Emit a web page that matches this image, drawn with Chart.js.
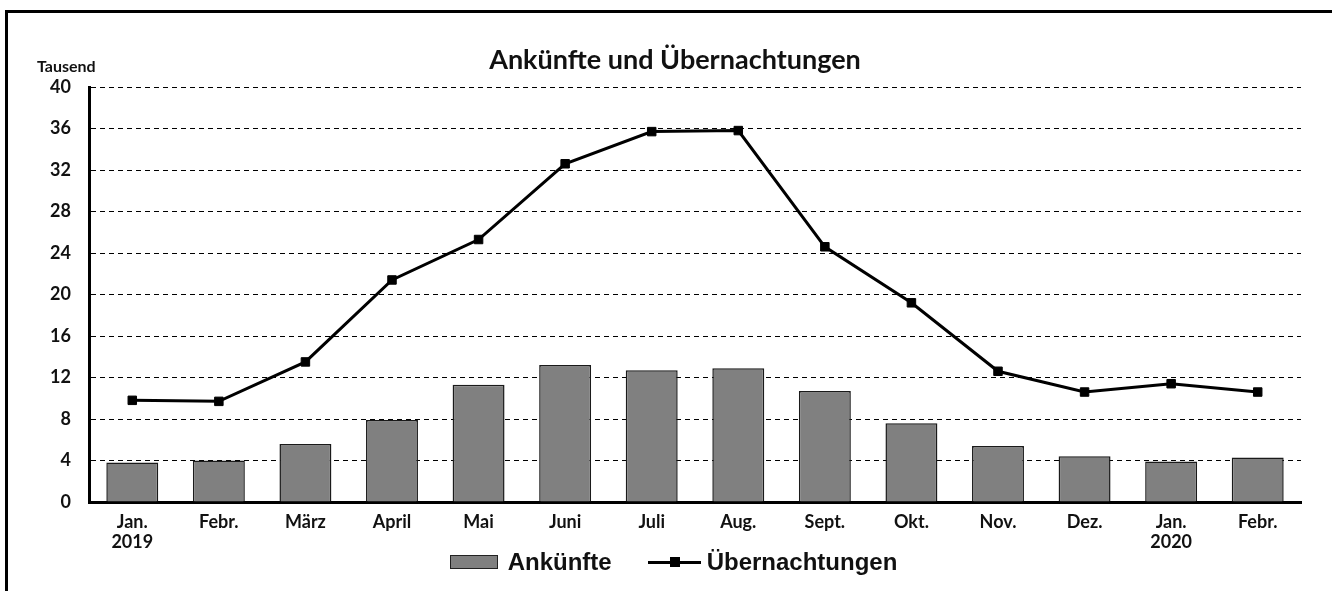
<!DOCTYPE html>
<html>
<head>
<meta charset="utf-8">
<script src="https://cdn.jsdelivr.net/npm/chart.js@4.4.1/dist/chart.umd.min.js"></script>
<style>
  html, body { margin: 0; padding: 0; background: #fff; }
  #wrap { position: relative; width: 1332px; height: 591px; overflow: hidden; }
  #frame { position: absolute; left: 5px; top: 10px; width: 1400px; height: 700px;
           border-top: 3px solid #000; border-left: 3px solid #000; }
  #chart { position: absolute; left: 0; top: 0; }
  #titel { position: absolute; left: 0; width: 1350px; top: 42px; text-align: center;
           font: bold 27px Lato, sans-serif; color: #111; }
  #einheit { position: absolute; left: 37px; top: 56px; font: bold 16px Lato, sans-serif; color: #111; }
  #legende { position: absolute; left: 0; width: 1347px; top: 548px; display: flex; justify-content: center;
             align-items: center; font: bold 24px "Liberation Sans", Arial, sans-serif; color: #111; }
  .box { width: 46px; height: 12px; background: #808080; border: 1px solid #222; margin-right: 10px; }
  .linie { position: relative; width: 53px; height: 3px; background: #000; margin: 0 6px 0 36px; }
  .linie span { position: absolute; left: 22px; top: -4px; width: 10px; height: 10px; background: #000; }
</style>
</head>
<body>
<div id="wrap">
  <div id="frame"></div>
  <canvas id="chart" width="1332" height="591"></canvas>
  <div id="titel">Ankünfte und Übernachtungen</div>
  <div id="einheit">Tausend</div>
  <div id="legende">
    <div class="box"></div><span>Ankünfte</span>
    <div class="linie"><span></span></div><span>Übernachtungen</span>
  </div>
</div>
<script>
const monate = [['Jan.', '2019'], 'Febr.', 'März', 'April', 'Mai', 'Juni', 'Juli', 'Aug.', 'Sept.', 'Okt.', 'Nov.', 'Dez.', ['Jan.', '2020'], 'Febr.'];
const ankuenfte = [3.8, 4.0, 5.6, 7.9, 11.3, 13.2, 12.7, 12.9, 10.7, 7.6, 5.4, 4.4, 3.9, 4.3];
const uebernachtungen = [9.8, 9.7, 13.5, 21.4, 25.3, 32.6, 35.7, 35.8, 24.6, 19.2, 12.6, 10.6, 11.4, 10.6];
const yMin = 0, yMax = 40, yStep = 4;

const tickFont = { family: 'Lato', weight: 'bold', size: 18, lineHeight: 1.1 };

new Chart(document.getElementById('chart'), {
  type: 'bar',
  data: {
    labels: monate,
    datasets: [
      {
        type: 'line',
        label: 'Übernachtungen',
        data: uebernachtungen,
        borderColor: '#000',
        borderWidth: 3,
        pointStyle: 'rect',
        pointRadius: 6,
        pointBackgroundColor: '#000',
        pointBorderColor: '#000',
        pointBorderWidth: 1,
        tension: 0,
        order: 0
      },
      {
        label: 'Ankünfte',
        data: ankuenfte,
        backgroundColor: '#808080',
        borderColor: '#1a1a1a',
        borderWidth: 1.5,
        categoryPercentage: 1,
        barPercentage: 0.6,
        order: 1
      }
    ]
  },
  options: {
    responsive: false,
    animation: false,
    layout: { padding: { left: 0, right: 31, top: 87, bottom: 0 } },
    plugins: {
      legend: { display: false },
      title: { display: false },
      tooltip: { enabled: false }
    },
    scales: {
      x: {
        grid: { display: false, drawTicks: false },
        border: { display: true, color: '#000', width: 3 },
        ticks: { color: '#111', font: tickFont, padding: 10, maxRotation: 0, autoSkip: false },
        afterFit: (s) => { s.height = 89; }
      },
      y: {
        min: yMin,
        max: yMax,
        grid: { color: '#000', lineWidth: 1, drawTicks: false },
        border: { display: true, color: '#000', width: 3, dash: [5, 4] },
        ticks: { stepSize: yStep, color: '#111', font: tickFont, padding: 18 },
        afterFit: (s) => { s.width = 89; }
      }
    }
  }
});
</script>
</body>
</html>
